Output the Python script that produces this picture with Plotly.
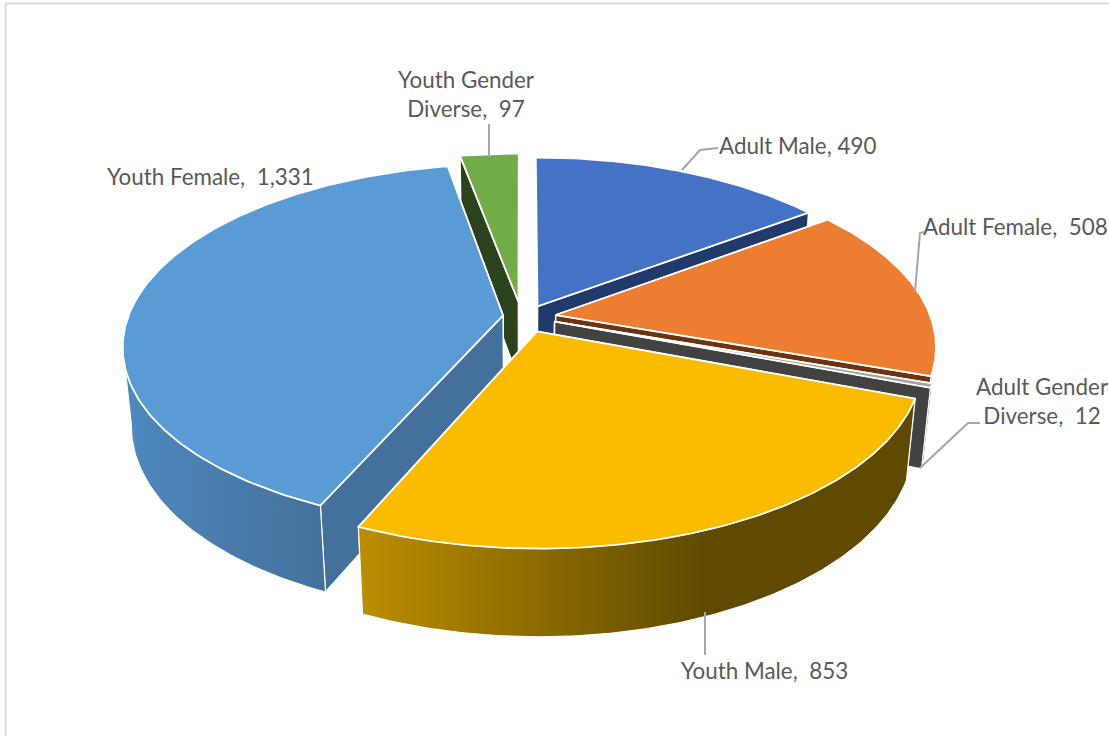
import numpy as np
import plotly.graph_objects as go

# ---- data ----
categories = ["Adult Male", "Adult Female", "Adult Gender Diverse",
              "Youth Male", "Youth Female", "Youth Gender Diverse"]
values = [490, 508, 12, 853, 1331, 97]
label_lines = [["Adult Male"], ["Adult Female"], ["Adult Gender", "Diverse"],
               ["Youth Male"], ["Youth Female"], ["Youth Gender", "Diverse"]]
label_gaps = ["\u00a0", "\u00a0\u00a0", "\u00a0\u00a0", "\u00a0\u00a0", "\u00a0\u00a0", "\u00a0\u00a0"]

# ---- styling ----
top_colors = ["#4472C4", "#ED7D31", "#A5A5A5", "#FBBC00", "#5B9BD5", "#70AD47"]
wall_colors = ["#223A6B", "#6B3410", "#424242", "#655000", "#44719C", "#2B431C"]
wall_left = ["#223A6B", "#6B3410", "#424242", "#BC8E00", "#4E88BE", "#2B431C"]
wall_right = ["#223A6B", "#6B3410", "#424242", "#5F4A00", "#44719C", "#2B431C"]
wall_stop = [1, 1, 1, 0.62, 1, 1]
draw_order = [0, 5, 1, 2, 4, 3]
nudge = [(-2, 0), (1, -1), (1, -1), (-1, 1), (4, -1), (-6, -3)]
label_pos = [(797, 145), (1015, 226), (1042, 401), (764, 670), (210, 176), (466, 94)]
leaders = [
    [(718, 148), (700, 150), (682, 170)],
    [(924, 232), (920, 233), (915, 292)],
    [(980, 423), (968, 423), (920, 468)],
    [(705, 612), (705, 655)],
    [],
    [(489, 124), (489, 157)],
]

# ---- projection model ----
TILT = np.radians(28.15)
DIST = 5.35
FOCAL = 2006.0
CX, CY = 527.0, 318.0
EXPLODE = 0.075
HEIGHT = 0.24
FACING = -0.15


def project(X, Y, Z):
    X, Y, Z = np.asarray(X, float), np.asarray(Y, float), np.asarray(Z, float)
    up = Y * np.sin(TILT) + Z * np.cos(TILT)
    depth = DIST + Y * np.cos(TILT) - Z * np.sin(TILT)
    return CX + FOCAL * X / depth, CY - FOCAL * up / depth


def polygon(xs, ys, color, grad=None, stop=1.0, lw=1.5):
    kw = dict(fillcolor=color)
    if grad is not None:
        scale = [[0, grad[0]], [1, grad[1]]] if stop >= 1 else [[0, grad[0]], [stop, grad[1]], [1, grad[1]]]
        kw = dict(fillgradient=dict(type="horizontal", start=float(np.min(xs)), stop=float(np.max(xs)),
                                    colorscale=scale))
    return go.Scatter(x=list(xs), y=list(ys), mode="lines", fill="toself",
                      line=dict(color="white", width=lw), hoverinfo="skip",
                      showlegend=False, **kw)


fig = go.Figure()
fractions = np.array(values, float) / np.sum(values)
ends = np.cumsum(fractions) * 2 * np.pi
starts = ends - fractions * 2 * np.pi

for i in draw_order:
    a0, a1 = starts[i], ends[i]
    mid = (a0 + a1) / 2
    ox, oy = EXPLODE * np.sin(mid), EXPLODE * np.cos(mid)
    nx, ny = nudge[i]
    th = np.linspace(a0, a1, 160)
    ax, ay = ox + np.sin(th), oy + np.cos(th)
    # inner walls: the one nearer the viewer last
    for a in sorted((a0, a1), key=lambda v: -np.cos(v)):
        ex, ey = ox + np.sin(a), oy + np.cos(a)
        wx = [ox, ex, ex, ox, ox]
        wy = [oy, ey, ey, oy, oy]
        wz = [0, 0, -HEIGHT, -HEIGHT, 0]
        px, py = project(wx, wy, wz)
        fig.add_trace(polygon(px + nx, py + ny, wall_colors[i], lw=1.5))
    # outer wall: only the part of the rim that faces the viewer
    facing = np.cos(th) < FACING
    if facing.sum() > 1:
        fx, fy = ax[facing], ay[facing]
        xt, yt = project(fx, fy, np.zeros_like(fx))
        xb, yb = project(fx, fy, np.full_like(fx, -HEIGHT))
        px = np.r_[xt, xb[::-1], xt[0]] + nx
        py = np.r_[yt, yb[::-1], yt[0]] + ny
        fig.add_trace(polygon(px, py, wall_colors[i], grad=(wall_left[i], wall_right[i]),
                              stop=wall_stop[i], lw=1.0))
    # top face
    tx = np.r_[ox, ax, ox]
    ty = np.r_[oy, ay, oy]
    px, py = project(tx, ty, np.zeros_like(tx))
    fig.add_trace(polygon(px + nx, py + ny, top_colors[i], lw=1.8))

for pts in leaders:
    if pts:
        fig.add_trace(go.Scatter(x=[p[0] for p in pts], y=[p[1] for p in pts], mode="lines",
                                 line=dict(color="#A6A6A6", width=2), hoverinfo="skip",
                                 showlegend=False))

for lines, v, pos, gap in zip(label_lines, values, label_pos, label_gaps):
    body = "<br>".join(lines[:-1] + [f"{lines[-1]},{gap}{v:,}"])
    fig.add_annotation(x=pos[0], y=pos[1], text=body, showarrow=False, align="center",
                       font=dict(family="Lato", size=22.4, color="#595959"))

fig.update_layout(
    width=1109, height=736, autosize=False,
    margin=dict(l=0, r=0, t=0, b=0),
    paper_bgcolor="white", plot_bgcolor="white",
    xaxis=dict(range=[0, 1109], visible=False, fixedrange=True),
    yaxis=dict(range=[736, 0], visible=False, fixedrange=True),
    shapes=[
        dict(type="line", x0=5.5, x1=5.5, y0=3.5, y1=736, line=dict(color="#D9D9D9", width=2)),
        dict(type="line", x0=5.5, x1=1109, y0=3.5, y1=3.5, line=dict(color="#D9D9D9", width=2)),
    ],
)
fig.write_html("out.html", config={"displayModeBar": False},
               post_script="document.body.style.margin='0';document.body.style.overflow='hidden';")
